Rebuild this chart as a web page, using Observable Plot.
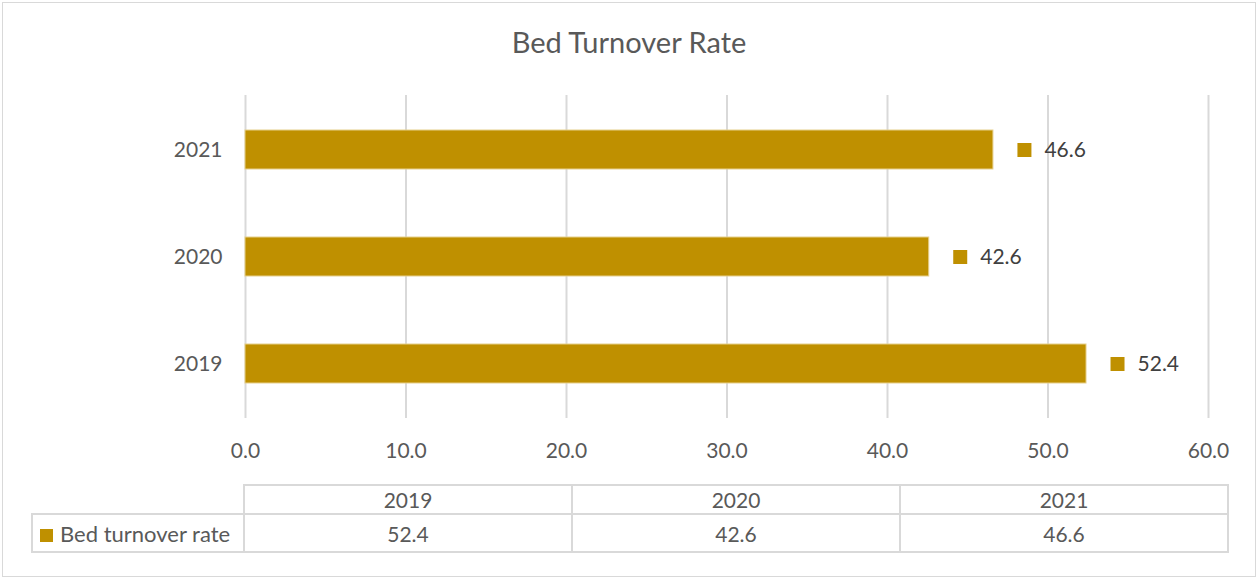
<!DOCTYPE html>
<html>
<head>
<meta charset="utf-8">
<script src="https://cdn.jsdelivr.net/npm/d3@7"></script>
<script src="https://cdn.jsdelivr.net/npm/@observablehq/plot@0.6"></script>
<style>
  html, body { margin: 0; padding: 0; background: #fff; }
  #wrap { position: relative; width: 1258px; height: 579px; overflow: hidden;
    font-family: Lato, "Open Sans", sans-serif; color: #595959; }
  #border { position: absolute; left: 2px; top: 2px; width: 1254px; height: 575px;
    border: 1px solid #d9d9d9; box-sizing: border-box; }
  #title {
    position: absolute; left: 0; width: 1258px; top: 25px; text-align: center;
    font-size: 29px; line-height: 34px; color: #595959;
  }
  #plot { position: absolute; left: 0; top: 78px; width: 1258px; }
  #plot svg { max-width: none; }
  table.dt {
    position: absolute; border-collapse: collapse; font-size: 21px; color: #595959;
  }
  table.dt td { border: 2px solid #d9d9d9; text-align: center; padding: 0; }
  .sw { display: inline-block; width: 13px; height: 13px; background: #BF9000; margin-right: 7px; vertical-align: 0px; }
  .lg { font-size: 22px; }
</style>
</head>
<body>
<div id="wrap">
  <div id="border"></div>
  <div id="title"></div>
  <div id="plot"></div>
</div>
<script>
const title = "Bed Turnover Rate";
const seriesName = "Bed turnover rate";
const years = ["2019", "2020", "2021"];
const values = [52.4, 42.6, 46.6];
const xTicks = [0, 10, 20, 30, 40, 50, 60];
const barColor = "#BF9000";

document.getElementById("title").textContent = title;

const data = years.map((y, i) => ({year: y, value: values[i]}));

const chart = Plot.plot({
  width: 1258,
  height: 392,
  marginLeft: 245,
  marginRight: 50,
  marginTop: 17,
  marginBottom: 52,
  style: {fontFamily: "Lato, 'Open Sans', sans-serif", fontSize: "21px", color: "#595959", background: "transparent", maxWidth: "none"},
  x: {domain: [0, 60], ticks: xTicks, tickFormat: d => d.toFixed(1), label: null},
  y: {domain: [...years].reverse(), label: null, paddingInner: 0.64, paddingOuter: 0.32},
  marks: [
    Plot.gridX(xTicks, {stroke: "#d9d9d9", strokeOpacity: 1, strokeWidth: 2}),
    Plot.axisX({ticks: xTicks, tickFormat: d => d.toFixed(1), tickSize: 0, tickPadding: 25, fontSize: 21, label: null}),
    Plot.axisY({tickSize: 0, tickPadding: 23, fontSize: 21, label: null}),
    Plot.barX(data, {x: "value", y: "year", fill: barColor, stroke: "#e6cf8c", strokeWidth: 1}),
    Plot.dot(data, {x: "value", y: "year", symbol: "square", r: 7.9, fill: barColor, dx: 31}),
    Plot.text(data, {x: "value", y: "year", text: d => d.value.toFixed(1), dx: 51, textAnchor: "start", fontSize: 21, fill: "#404040"})
  ]
});
document.getElementById("plot").appendChild(chart);

// data table below the axis
const wrap = document.getElementById("wrap");
const table = document.createElement("table");
table.className = "dt";
table.style.left = "31px";
table.style.top = "484px";
const r1 = table.insertRow();
const blank = r1.insertCell();
blank.style.border = "none";
blank.style.borderRight = "2px solid #d9d9d9";
blank.style.borderBottom = "2px solid #d9d9d9";
blank.style.width = "211px";
years.forEach(y => { const c = r1.insertCell(); c.textContent = y; c.style.width = "326px"; c.style.height = "27px"; });
const r2 = table.insertRow();
const lc = r2.insertCell();
lc.style.textAlign = "left";
lc.style.paddingLeft = "7px";
lc.style.height = "36px";
lc.innerHTML = '<span class="sw"></span><span class="lg">' + seriesName + '</span>';
values.forEach(v => { const c = r2.insertCell(); c.textContent = v.toFixed(1); });
wrap.appendChild(table);
</script>
</body>
</html>
